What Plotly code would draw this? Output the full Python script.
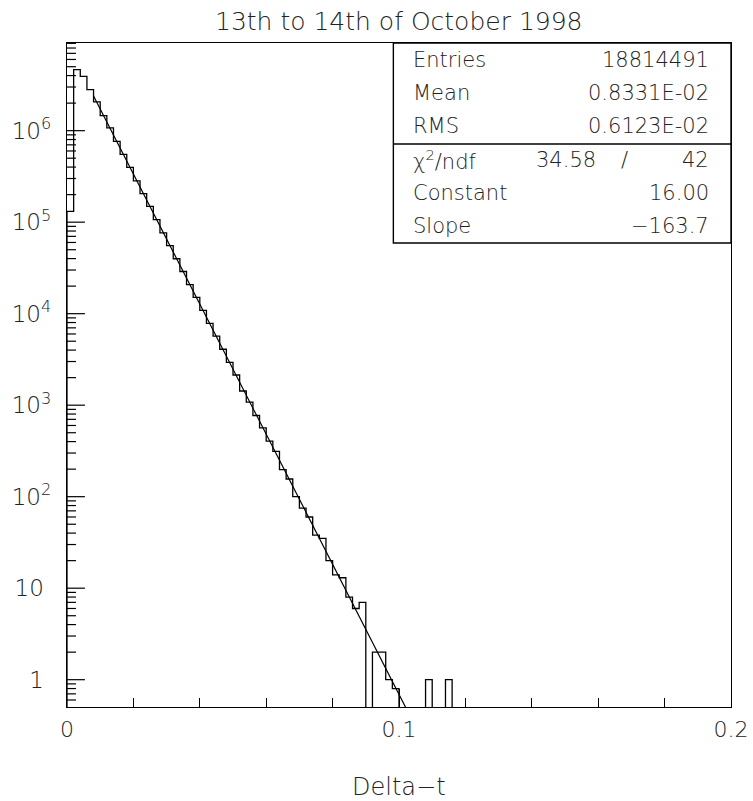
import numpy as np
import plotly.graph_objects as go

# Histogram definition: 100 bins of width 0.002 between 0 and 0.2
x_min, x_max, n_bins = 0.0, 0.2, 100

# Bin contents of the Delta-t distribution
counts = [
    131000, 4645000, 3926000, 2806000, 2061000, 1459000, 1072000, 763800, 552100, 397200,
    283100, 204600, 148600, 106700, 76560, 55460, 39810, 28910, 20750, 15100,
    10840, 7852, 5689, 4083, 2931, 2138, 1429, 1079, 771, 565,
    404, 312, 198, 156, 100, 75, 60, 38, 35, 20,
    14, 13, 8, 6, 7, 0, 2, 2, 1, 0.8,
    0, 0, 0, 0, 1, 0, 0, 1, 0, 0,
    0, 0, 0, 0, 0, 0, 0, 0, 0, 0,
    0, 0, 0, 0, 0, 0, 0, 0, 0, 0,
    0, 0, 0, 0, 0, 0, 0, 0, 0, 0,
    0, 0, 0, 0, 0, 0, 0, 0, 0, 0,
]

# Exponential fit exp(constant + slope * x) and its range
fit_constant = 16.00
fit_slope = -163.7
fit_range = (0.008, 0.11)

# Statistics box
stat_labels = ["Entries", "Mean", "RMS"]
stat_values = ["18814491", "0.8331E-02", "0.6123E-02"]
chi2, ndf = "34.58", "42"
param_labels = ["Constant", "Slope"]
param_values = ["16.00", "\u2212163.7"]

title_text = "13th to 14th of October 1998"
x_title = "Delta\u2212t"

x_tick_vals = [0, 0.1, 0.2]
x_tick_text = ["0", "0.1", "0.2"]
y_tick_vals = [1, 10, 1e2, 1e3, 1e4, 1e5, 1e6]
y_tick_text = ["1\u00a0", "10\u00a0", "10<sup>2</sup>", "10<sup>3</sup>",
               "10<sup>4</sup>", "10<sup>5</sup>", "10<sup>6</sup>"]
y_range = (0.503, 9.08e6)

FONT = "DejaVu Sans ExtraLight, DejaVu Sans, sans-serif"
INK = "#222222"

# Step outline of the histogram (empty bins drop below the axis floor)
edges = np.linspace(x_min, x_max, n_bins + 1)
floor = y_range[0] / 10
vals = np.array(counts, dtype=float)
vals[vals <= 0] = floor
step_x = np.concatenate([[edges[0]], edges])
step_y = np.concatenate([[floor], vals, [floor]])

fit_x = np.linspace(fit_range[0], fit_range[1], 200)
fit_y = np.exp(fit_constant + fit_slope * fit_x)

fig = go.Figure()
fig.add_trace(go.Scatter(x=step_x, y=step_y, mode="lines", line_shape="hv",
                         line=dict(color="black", width=1.3), hoverinfo="skip"))
fig.add_trace(go.Scatter(x=fit_x, y=fit_y, mode="lines",
                         line=dict(color="black", width=1.2), hoverinfo="skip"))

# Tick marks of the log axis drawn inside the frame: long at decades, short at 2..9
minor_y = [m * 10.0 ** k for k in range(-1, 7) for m in range(2, 10)
           if y_range[0] < m * 10.0 ** k < y_range[1]]
major_len = 0.0054   # in x data units
minor_len = 0.0027
tx, ty = [], []
for v in y_tick_vals:
    tx += [x_min, x_min + major_len, None]
    ty += [v, v, None]
for v in minor_y:
    tx += [x_min, x_min + minor_len, None]
    ty += [v, v, None]
fig.add_trace(go.Scatter(x=tx, y=ty, mode="lines", line=dict(color="black", width=1.2),
                         hoverinfo="skip"))

fig.update_xaxes(range=[x_min, x_max], showgrid=False, zeroline=False, automargin=False,
                 showline=True, mirror=True, linecolor="black", linewidth=1.4,
                 tickmode="array", tickvals=x_tick_vals, ticktext=x_tick_text,
                 ticks="inside", ticklen=18, tickwidth=1.2, tickcolor="black",
                 minor=dict(ticks="inside", ticklen=9, tickwidth=1.2, tickcolor="black",
                            dtick=0.02, tick0=0, showgrid=False),
                 ticklabelstandoff=2,
                 tickfont=dict(family=FONT, size=22, color=INK, weight=300))
fig.update_yaxes(type="log", range=[np.log10(y_range[0]), np.log10(y_range[1])],
                 showgrid=False, zeroline=False, automargin=False,
                 showline=True, mirror=True, linecolor="black", linewidth=1.4,
                 tickmode="array", tickvals=y_tick_vals, ticktext=y_tick_text,
                 ticks="", ticklabelstandoff=10,
                 tickfont=dict(family=FONT, size=23, color=INK, weight=300))

# statistics box drawn in the upper right corner of the frame
box_x0 = 0.0983
box_y0, box_sep = 0.6988, 0.8479
fig.add_shape(type="rect", xref="x", yref="paper", x0=box_x0, x1=x_max, y0=box_y0, y1=1,
              line=dict(color="black", width=1.4), fillcolor="white", layer="above")
fig.add_shape(type="line", xref="x", yref="paper", x0=box_x0, x1=x_max, y0=box_sep, y1=box_sep,
              line=dict(color="black", width=1.4), layer="above")

row_h = (1 - box_y0) / 6
row_y = [1 - row_h * (i + 0.5) for i in range(6)]
lab_x, val_x = 0.1037, 0.1940
sfont = dict(family=FONT, size=21, color=INK, weight=300)

def ann(x, y, text, anchor, xref="x", yref="paper", font=sfont):
    fig.add_annotation(x=x, y=y, xref=xref, yref=yref, text=text, showarrow=False,
                       xanchor=anchor, yanchor="middle", font=font)

for i, (lab, val) in enumerate(zip(stat_labels, stat_values)):
    ann(lab_x, row_y[i], lab, "left")
    ann(val_x, row_y[i], val, "right")
ann(lab_x, row_y[3], "\u03c7<sup>2</sup>/ndf", "left")
ann(0.1600, row_y[3], chi2, "right")
ann(0.1680, row_y[3], "/", "center")
ann(val_x, row_y[3], ndf, "right")
for i, (lab, val) in enumerate(zip(param_labels, param_values)):
    ann(lab_x, row_y[4 + i], lab, "left")
    ann(val_x, row_y[4 + i], val, "right")

ann(0.5, 1.0331, title_text, "center", xref="paper",
    font=dict(family=FONT, size=25, color=INK, weight=300))
ann(0.5, -0.1211, x_title, "center", xref="paper",
    font=dict(family=FONT, size=24, color=INK, weight=300))

fig.update_layout(width=753, height=801, showlegend=False,
                  margin=dict(l=67, r=22, t=43, b=94, autoexpand=False),
                  paper_bgcolor="white", plot_bgcolor="white")

fig.write_html("out.html")
